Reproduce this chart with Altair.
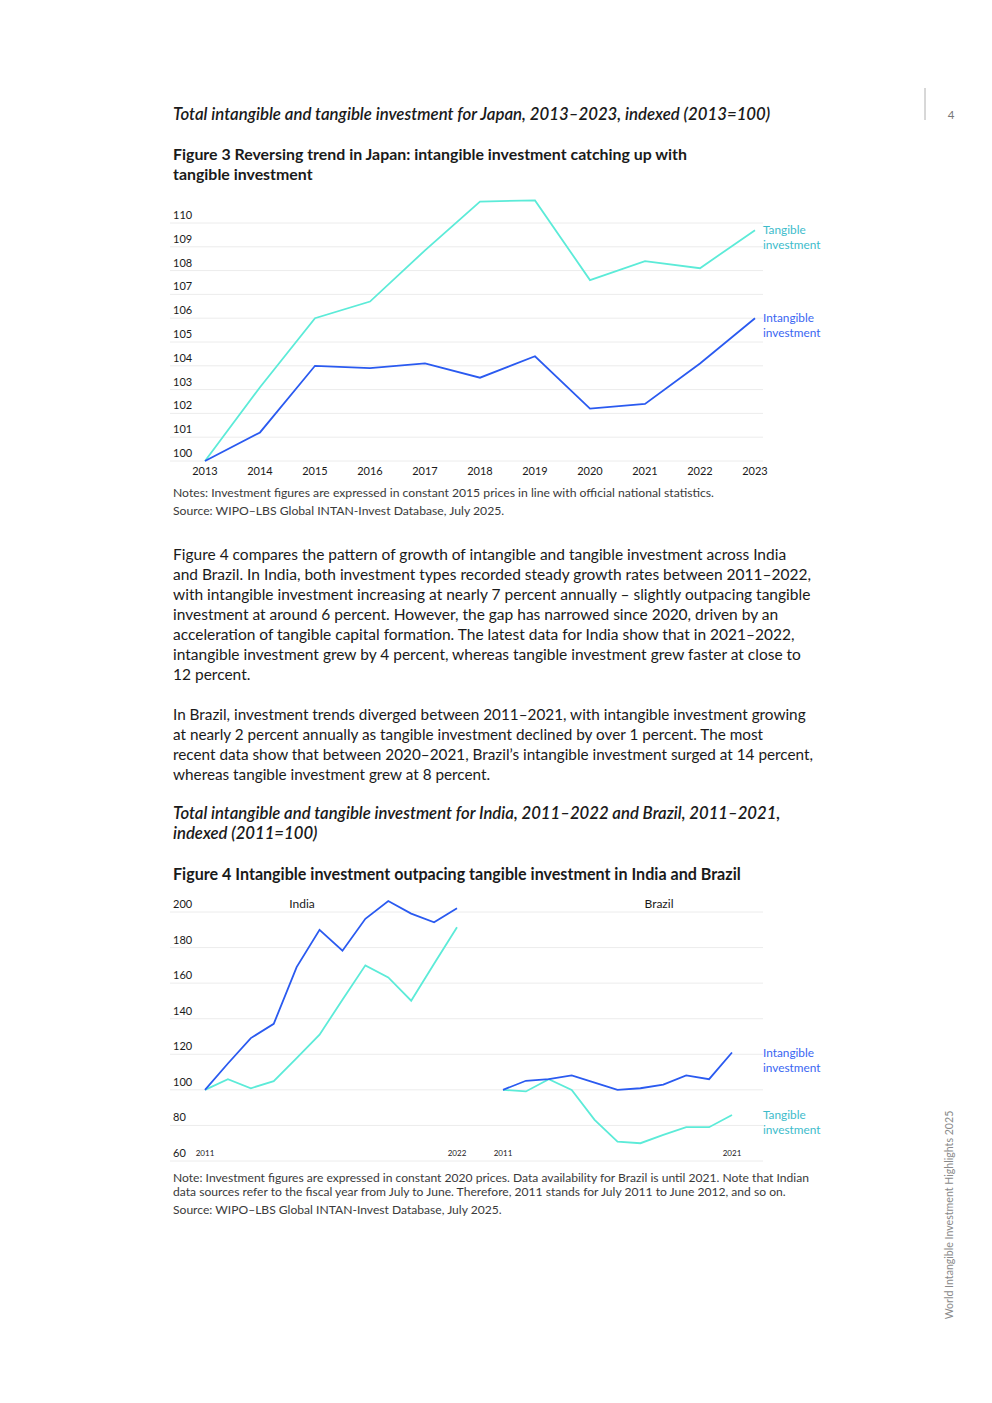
import altair as alt
import pandas as pd

FONT = "Lato"
TXT = "#1a1a1a"
NOTE = "#3a3a3a"
GRID = "#ececec"
C_TAN = "#5CEBD8"
C_INT = "#2A5AF0"
L_TAN = "#3DBCCB"
L_INT = "#3A66F2"

# ---------------- data ----------------
jp_years = [2013, 2014, 2015, 2016, 2017, 2018, 2019, 2020, 2021, 2022, 2023]
jp_tangible = [100, 103.1, 106.0, 106.7, 108.85, 110.9, 110.95, 107.6, 108.4, 108.1, 109.7]
jp_intangible = [100, 101.2, 104.0, 103.9, 104.1, 103.5, 104.4, 102.2, 102.4, 104.1, 106.0]
jp_ticks = [100, 101, 102, 103, 104, 105, 106, 107, 108, 109, 110]

in_years = [2011, 2012, 2013, 2014, 2015, 2016, 2017, 2018, 2019, 2020, 2021, 2022]
in_intangible = [100, 114.8, 129.1, 137.1, 169.0, 190.0, 178.2, 196.2, 206.2, 199.1, 194.2, 202.1]
in_tangible = [100, 106.0, 100.9, 104.9, 117.8, 131.0, 150.7, 170.0, 163.2, 150.1, 170.9, 191.4]

br_years = [2011, 2012, 2013, 2014, 2015, 2016, 2017, 2018, 2019, 2020, 2021]
br_intangible = [100, 105.1, 106.0, 108.1, 104.1, 100.0, 100.9, 103.0, 108.1, 106.0, 121.0]
br_tangible = [100, 99.1, 106.0, 100.0, 83.1, 70.9, 70.0, 74.7, 79.0, 79.0, 85.9]

f4_ticks = [60, 80, 100, 120, 140, 160, 180, 200]
in_year_labels = [2011, 2022]
br_year_labels = [2011, 2021]

series = ["Tangible investment", "Intangible investment"]
series_first = ["Tangible", "Intangible"]

# ---------------- text ----------------
title1 = "Total intangible and tangible investment for Japan, 2013\u20132023, indexed (2013=100)"
fig3_title = ["Figure 3 Reversing trend in Japan: intangible investment catching up with",
              "tangible investment"]
notes1 = ["Notes: Investment figures are expressed in constant 2015 prices in line with official national statistics.",
          "Source: WIPO\u2013LBS Global INTAN-Invest Database, July 2025."]
para1 = ["Figure 4 compares the pattern of growth of intangible and tangible investment across India",
         "and Brazil. In India, both investment types recorded steady growth rates between 2011\u20132022,",
         "with intangible investment increasing at nearly 7 percent annually \u2013 slightly outpacing tangible",
         "investment at around 6 percent. However, the gap has narrowed since 2020, driven by an",
         "acceleration of tangible capital formation. The latest data for India show that in 2021\u20132022,",
         "intangible investment grew by 4 percent, whereas tangible investment grew faster at close to",
         "12 percent."]
para2 = ["In Brazil, investment trends diverged between 2011\u20132021, with intangible investment growing",
         "at nearly 2 percent annually as tangible investment declined by over 1 percent.  The most",
         "recent data show that between 2020\u20132021, Brazil\u2019s intangible investment surged at 14 percent,",
         "whereas tangible investment grew at 8 percent."]
title2 = ["Total intangible and tangible investment for India, 2011\u20132022 and Brazil, 2011\u20132021,",
          "indexed (2011=100)"]
fig4_title = "Figure 4 Intangible investment outpacing tangible investment in India and Brazil"
notes2 = ["Note: Investment figures are expressed in constant 2020 prices. Data availability for Brazil is until 2021. Note that Indian",
          "data sources refer to the fiscal year from July to June. Therefore, 2011 stands for July 2011 to June 2012, and so on."]
source2 = "Source: WIPO\u2013LBS Global INTAN-Invest Database, July 2025."
side_text = "World Intangible Investment Highlights 2025"
page_no = "4"
panel_names = ["India", "Brazil"]

one = pd.DataFrame({"k": [0]})


def block(lines, x, y, size, lh=None, color=TXT, weight="normal", style="normal"):
    t = lines if isinstance(lines, str) else (lines if len(lines) > 1 else lines[0])
    kw = dict(text=t, align="left", baseline="alphabetic", fontSize=size, font=FONT,
              fontWeight=weight, fontStyle=style, color=color)
    if lh:
        kw["lineHeight"] = lh
    return alt.Chart(one).mark_text(**kw).encode(x=alt.value(x), y=alt.value(y))


def lin(domain, rng):
    return alt.Scale(domain=domain, range=rng, nice=False, zero=False)


color_line = alt.Color("series:N", scale=alt.Scale(domain=series, range=[C_TAN, C_INT]), legend=None)
color_lab = alt.Color("series:N", scale=alt.Scale(domain=series, range=[L_TAN, L_INT]), legend=None)

LAB = 11.8

# ---------------- Japan chart ----------------
jp_x = lin([2013, 2023], [197, 747])
jp_y = lin([100, 110], [453, 215])

jp_df = pd.DataFrame({
    "year": jp_years * 2,
    "value": jp_tangible + jp_intangible,
    "series": [series[0]] * len(jp_years) + [series[1]] * len(jp_years),
})
jp_tick_df = pd.DataFrame({"v": jp_ticks, "label": [str(t) for t in jp_ticks]})
jp_year_df = pd.DataFrame({"year": jp_years, "label": [str(y) for y in jp_years]})
jp_end_df = pd.DataFrame({"series": series, "first": series_first,
                          "value": [jp_tangible[-1], jp_intangible[-1]]})

jp_grid = alt.Chart(jp_tick_df).mark_rule(color=GRID, strokeWidth=1).encode(
    y=alt.Y("v:Q", scale=jp_y, axis=None), x=alt.value(162), x2=alt.value(755))
jp_ylab = alt.Chart(jp_tick_df).mark_text(align="left", baseline="alphabetic", dy=-4, fontSize=11,
                                          font=FONT, color=TXT).encode(
    y=alt.Y("v:Q", scale=jp_y, axis=None), x=alt.value(165), text="label:N")
jp_xlab = alt.Chart(jp_year_df).mark_text(align="center", baseline="middle", fontSize=11,
                                          font=FONT, color=TXT).encode(
    x=alt.X("year:Q", scale=jp_x, axis=None), y=alt.value(464), text="label:N")
jp_lines = alt.Chart(jp_df).mark_line(strokeWidth=1.8).encode(
    x=alt.X("year:Q", scale=jp_x, axis=None), y=alt.Y("value:Q", scale=jp_y, axis=None), color=color_line)
jp_lab1 = alt.Chart(jp_end_df).mark_text(align="left", baseline="alphabetic", dy=4, fontSize=LAB,
                                         font=FONT).encode(
    x=alt.value(755), y=alt.Y("value:Q", scale=jp_y, axis=None), text="first:N", color=color_lab)
jp_lab2 = alt.Chart(jp_end_df).mark_text(align="left", baseline="alphabetic", dy=19, fontSize=LAB,
                                         font=FONT, text="investment").encode(
    x=alt.value(755), y=alt.Y("value:Q", scale=jp_y, axis=None), color=color_lab)

# ---------------- India / Brazil chart ----------------
in_x = lin([2011, 2022], [197, 449])
br_x = lin([2011, 2021], [495, 724])
f4_y = lin([60, 200], [1153, 904])

in_df = pd.DataFrame({
    "year": in_years * 2,
    "value": in_tangible + in_intangible,
    "series": [series[0]] * len(in_years) + [series[1]] * len(in_years),
})
br_df = pd.DataFrame({
    "year": br_years * 2,
    "value": br_tangible + br_intangible,
    "series": [series[0]] * len(br_years) + [series[1]] * len(br_years),
})
f4_tick_df = pd.DataFrame({"v": f4_ticks, "label": [str(t) for t in f4_ticks]})
in_yl_df = pd.DataFrame({"year": in_year_labels, "label": [str(y) for y in in_year_labels]})
br_yl_df = pd.DataFrame({"year": br_year_labels, "label": [str(y) for y in br_year_labels]})
br_end_df = pd.DataFrame({"series": series, "first": series_first,
                          "value": [br_tangible[-1], br_intangible[-1]]})

f4_grid = alt.Chart(f4_tick_df).mark_rule(color=GRID, strokeWidth=1).encode(
    y=alt.Y("v:Q", scale=f4_y, axis=None), x=alt.value(162), x2=alt.value(755))
f4_ylab = alt.Chart(f4_tick_df).mark_text(align="left", baseline="alphabetic", dy=-4, fontSize=11,
                                          font=FONT, color=TXT).encode(
    y=alt.Y("v:Q", scale=f4_y, axis=None), x=alt.value(165), text="label:N")
in_lines = alt.Chart(in_df).mark_line(strokeWidth=1.8).encode(
    x=alt.X("year:Q", scale=in_x, axis=None), y=alt.Y("value:Q", scale=f4_y, axis=None), color=color_line)
br_lines = alt.Chart(br_df).mark_line(strokeWidth=1.8).encode(
    x=alt.X("year:Q", scale=br_x, axis=None), y=alt.Y("value:Q", scale=f4_y, axis=None), color=color_line)
in_xlab = alt.Chart(in_yl_df).mark_text(align="center", baseline="middle", fontSize=8,
                                        font=FONT, color=TXT).encode(
    x=alt.X("year:Q", scale=in_x, axis=None), y=alt.value(1146), text="label:N")
br_xlab = alt.Chart(br_yl_df).mark_text(align="center", baseline="middle", fontSize=8,
                                        font=FONT, color=TXT).encode(
    x=alt.X("year:Q", scale=br_x, axis=None), y=alt.value(1146), text="label:N")
india_name = alt.Chart(one).mark_text(text=panel_names[0], align="center", baseline="middle",
                                      fontSize=12, font=FONT, color=TXT).encode(
    x=alt.value(294), y=alt.value(896))
brazil_name = alt.Chart(one).mark_text(text=panel_names[1], align="center", baseline="middle",
                                       fontSize=12, font=FONT, color=TXT).encode(
    x=alt.value(651), y=alt.value(896))
br_lab1 = alt.Chart(br_end_df).mark_text(align="left", baseline="alphabetic", dy=4, fontSize=LAB,
                                         font=FONT).encode(
    x=alt.value(755), y=alt.Y("value:Q", scale=f4_y, axis=None), text="first:N", color=color_lab)
br_lab2 = alt.Chart(br_end_df).mark_text(align="left", baseline="alphabetic", dy=19, fontSize=LAB,
                                         font=FONT, text="investment").encode(
    x=alt.value(755), y=alt.Y("value:Q", scale=f4_y, axis=None), color=color_lab)

# ---------------- page furniture ----------------
side = alt.Chart(one).mark_text(text=side_text, align="center", baseline="middle", angle=270,
                                fontSize=10.6, font=FONT, color="#8a8a8a").encode(
    x=alt.value(942), y=alt.value(1207))
pnum = alt.Chart(one).mark_text(text=page_no, align="center", baseline="middle",
                                fontSize=11.5, font=FONT, color="#777777").encode(
    x=alt.value(943), y=alt.value(108))
vline = alt.Chart(one).mark_rule(color="#b0b0b0", strokeWidth=1).encode(
    x=alt.value(917), y=alt.value(80), y2=alt.value(112))

layers = [
    block(title1, 165, 112, 16.8, style="italic", weight=600),
    block(fig3_title, 165, 152, 15.9, lh=20, weight=700),
    jp_grid, jp_ylab, jp_xlab, jp_lines, jp_lab1, jp_lab2,
    block(notes1, 165, 489, 12.2, lh=18, color=NOTE),
    block(para1, 165, 552, 15.5, lh=20),
    block(para2, 165, 712, 15.3, lh=20),
    block(title2, 165, 811, 16.7, lh=20, style="italic", weight=600),
    block(fig4_title, 165, 872, 16.1, weight=700),
    f4_grid, f4_ylab, in_lines, br_lines, in_xlab, br_xlab, india_name, brazil_name, br_lab1, br_lab2,
    block(notes2, 165, 1174, 12.1, lh=14, color=NOTE),
    block(source2, 165, 1206, 12.1, color=NOTE),
    side, pnum, vline,
]

chart = alt.layer(*layers).resolve_scale(
    x="independent", y="independent", color="independent"
).properties(width=976, height=1380, padding=0, background="white").configure_view(stroke=None)

chart.save("out.html", embed_options={"renderer": "svg", "actions": False})
